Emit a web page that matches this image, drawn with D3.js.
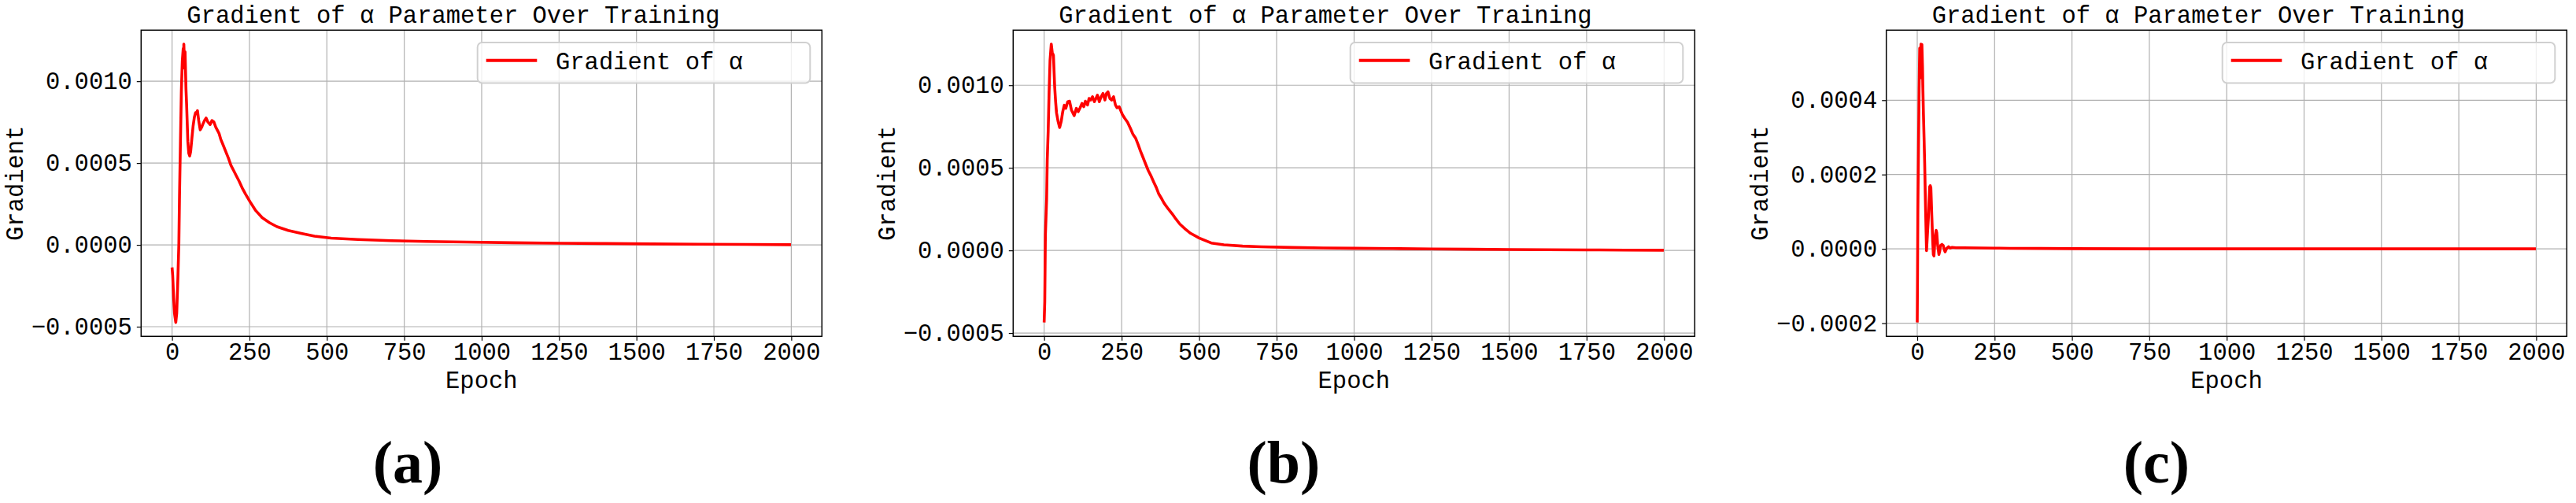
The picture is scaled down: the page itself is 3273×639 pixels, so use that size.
<!DOCTYPE html>
<html>
<head>
<meta charset="utf-8">
<title>Gradient of alpha parameter over training</title>
<script src="https://d3js.org/d3.v7.min.js"></script>
<style>
    body { margin: 0; background: #fff; }
    svg { display: block; }
    text { font-family: 'Liberation Mono', 'Courier New', monospace; }
</style>
</head>
<body>
<div id="chart"></div>
<script>
    // values (epoch, gradient)
    var epochsA = [0, 2, 5, 8, 12, 15, 19, 22, 24, 27, 30, 33, 36, 37, 38, 40, 42, 45, 47, 51, 54, 57, 60, 64, 68, 72, 76, 80, 82, 86, 91, 96,
        100, 105, 110, 116, 123, 129, 135, 141, 148, 152, 157, 165, 174, 182, 190, 200, 208, 216, 226, 237, 252, 270, 291, 315, 339,
        375, 417, 460, 514, 600, 708, 820, 951, 1100, 1250, 1400, 1550, 1700, 1850, 1999];
    var gradA = [-0.000138, -0.000186, -0.00032, -0.00042, -0.000474, -0.00042, -0.00019, 0.00001, 0.000295, 0.00062, 0.000936, 0.00112,
        0.0012, 0.00108, 0.001227, 0.00112, 0.00118, 0.00095, 0.000857, 0.000631, 0.00056, 0.000543, 0.00057, 0.00065, 0.000727, 0.00078,
        0.000808, 0.000812, 0.00082, 0.00076, 0.000703, 0.00072, 0.00074, 0.00076, 0.000775, 0.00075, 0.000735, 0.00076, 0.000751,
        0.00072, 0.000695, 0.00068, 0.000647, 0.00061, 0.000567, 0.00053, 0.000487, 0.00045, 0.00042, 0.000391, 0.00035, 0.000311,
        0.000263, 0.00021, 0.000166, 0.000135, 0.000111, 0.000088, 0.00007, 0.000053, 0.000041, 0.000033, 0.0000255, 0.000021,
        0.000017, 0.000013, 0.00001, 0.000008, 0.000006, 0.000004, 0.000003, 0.000001];

    var epochsB = [0, 2, 4, 6, 8, 10, 13, 16, 19, 23, 26, 30, 34, 37, 40, 45, 50, 55, 60, 65, 70, 76, 82, 88, 97, 104, 110, 116, 122, 128,
        133, 140, 145, 150, 156, 162, 167, 172, 178, 184, 190, 196, 201, 206, 212, 218, 224, 230, 235, 242, 252, 260, 269, 278, 286,
        295, 303, 311, 319, 328, 336, 345, 354, 362, 370, 380, 387, 400, 413, 425, 438, 455, 472, 500, 539, 580, 640, 700, 800, 900,
        1000, 1125, 1250, 1375, 1500, 1625, 1750, 1875, 1999];
    var gradB = [-0.000436, -0.00031, 0.00009, 0.0002, 0.00031, 0.000547, 0.00072, 0.000958, 0.00115, 0.001249, 0.0012, 0.00118, 0.00099,
        0.0009, 0.000832, 0.00078, 0.000744, 0.00078, 0.00084, 0.000879, 0.00086, 0.0009, 0.000903, 0.00085, 0.000816, 0.00086, 0.00084,
        0.000863, 0.00089, 0.00087, 0.000903, 0.00088, 0.00092, 0.00091, 0.00093, 0.0009, 0.000919, 0.00094, 0.0009, 0.00093, 0.00095,
        0.00091, 0.00095, 0.00096, 0.00092, 0.00091, 0.00093, 0.00088, 0.000863, 0.00087, 0.000824, 0.0008, 0.000776, 0.00074, 0.000705,
        0.00068, 0.000642, 0.0006, 0.000563, 0.00052, 0.000483, 0.00045, 0.000412, 0.00038, 0.000341, 0.00031, 0.000286, 0.000252,
        0.000222, 0.00019, 0.000159, 0.00013, 0.000104, 0.000075, 0.000045, 0.000034, 0.000026, 0.000022, 0.000018, 0.000015, 0.000013,
        0.000011, 0.000009, 0.000007, 0.000005, 0.000004, 0.000003, 0.000002, 0.000001];

    var epochsC = [0, 1, 2, 3, 4, 6, 8, 10, 12, 14, 15, 17, 18, 20, 22, 24, 27, 30, 33, 36, 40, 42, 44, 47, 50, 52, 54, 58, 61, 63, 66,
        70, 73, 75, 80, 84, 88, 90, 95, 101, 107, 113, 125, 150, 200, 250, 300, 400, 500, 750, 1000, 1250, 1500, 1750, 1999];
    var gradC = [-0.000198, -0.000065, 0.000104, 0.00019, 0.00027, 0.000428, 0.00054, 0.00046, 0.000551, 0.0005, 0.00055, 0.00049,
        0.00044, 0.000364, 0.0003, 0.000231, 0.000104, -0.000005, 0.00004, 0.000083, 0.000167, 0.00017, 0.000165, 0.00009, 0.00002,
        -0.000015, -0.000019, 0.000034, 0.00005, 0.000044, 0.00001, -0.000015, -0.000005, 0.000009, 0.000012, 0.000009, -0.000004,
        -0.000008, 0.000001, 0.0000057, 0.000002, 0.000004, 0.000003, 0.000003, 0.0000025, 0.000002, 0.0000015, 0.000001, 0.0000005,
        0, 0, 0, 0, 0, 0];

    var xTicks = [0, 250, 500, 750, 1000, 1250, 1500, 1750, 2000];
    var yTicksA = [-0.0005, 0, 0.0005, 0.0010];
    var yTicksB = [-0.0005, 0, 0.0005, 0.0010];
    var yTicksC = [-0.0002, 0, 0.0002, 0.0004];
    var captions = ['(a)', '(b)', '(c)'];

    var titleText = 'Gradient of \u03b1 Parameter Over Training';
    var legendText = 'Gradient of \u03b1';

    var width = 3273, height = 639;
    var plotTop = 38.3, plotBottom = 427.3;
    var fontSize = 30.5;
    var lineColor = '#ff0000';

    var panels = [
        {left: 179.3, right: 1044.3, epochs: epochsA, grads: gradA, yTicks: yTicksA, caption: captions[0], capX: 518},
        {left: 1287.3, right: 2153.3, epochs: epochsB, grads: gradB, yTicks: yTicksB, caption: captions[1], capX: 1631},
        {left: 2396.7, right: 3261.3, epochs: epochsC, grads: gradC, yTicks: yTicksC, caption: captions[2], capX: 2740}
    ];

    var svg = d3.select('#chart').append('svg')
            .attr('width', width)
            .attr('height', height);

    svg.append('rect')
            .attr('width', width)
            .attr('height', height)
            .attr('fill', '#fff');

    function fmt(v) {
        var s = Math.abs(v).toFixed(4);
        return v < 0 ? '\u2212' + s : s;
    }

    function drawPanel(p) {
        var data = p.epochs.map(function (e, i) { return {x: e, y: p.grads[i]}; });

        // matplotlib style 5% margins
        var xExt = d3.extent(data, function (d) { return d.x; });
        var yExt = d3.extent(data, function (d) { return d.y; });
        var xPad = (xExt[1] - xExt[0]) * 0.05;
        var yPad = (yExt[1] - yExt[0]) * 0.05;

        var x = d3.scaleLinear()
                .domain([xExt[0] - xPad, xExt[1] + xPad])
                .range([p.left, p.right]);
        var y = d3.scaleLinear()
                .domain([yExt[0] - yPad, yExt[1] + yPad])
                .range([plotBottom, plotTop]);

        var g = svg.append('g');

        // grid
        g.append('g').selectAll('line').data(xTicks).enter().append('line')
                .attr('x1', function (d) { return x(d); })
                .attr('x2', function (d) { return x(d); })
                .attr('y1', plotTop).attr('y2', plotBottom)
                .style('stroke', '#b0b0b0').style('stroke-width', 1.2);
        g.append('g').selectAll('line').data(p.yTicks).enter().append('line')
                .attr('y1', function (d) { return y(d); })
                .attr('y2', function (d) { return y(d); })
                .attr('x1', p.left).attr('x2', p.right)
                .style('stroke', '#b0b0b0').style('stroke-width', 1.2);

        // axes
        var xAxis = d3.axisBottom(x).tickValues(xTicks).tickSize(5.5).tickPadding(8).tickFormat(d3.format('d'));
        var yAxis = d3.axisLeft(y).tickValues(p.yTicks).tickSize(5.5).tickPadding(6).tickFormat(fmt);

        var gx = g.append('g').attr('transform', 'translate(0,' + plotBottom + ')').call(xAxis);
        var gy = g.append('g').attr('transform', 'translate(' + p.left + ',0)').call(yAxis);
        [gx, gy].forEach(function (a) {
            a.select('.domain').remove();
            a.selectAll('.tick line').style('stroke', '#000').style('stroke-width', 1.2);
            a.selectAll('.tick text')
                    .style('font-family', "'Liberation Mono', monospace")
                    .style('font-size', fontSize + 'px')
                    .style('fill', '#000');
        });
        gx.selectAll('.tick text').attr('dy', null).attr('y', 29.4);
        gy.selectAll('.tick text').attr('dy', null).attr('y', 9.6).attr('x', -11.5);

        // curve
        var line = d3.line()
                .x(function (d) { return x(d.x); })
                .y(function (d) { return y(d.y); });

        g.append('path')
                .datum(data)
                .attr('d', line)
                .style('fill', 'none')
                .style('stroke', lineColor)
                .style('stroke-width', 3.6)
                .style('stroke-linejoin', 'round');

        // frame
        g.append('rect')
                .attr('x', p.left).attr('y', plotTop)
                .attr('width', p.right - p.left).attr('height', plotBottom - plotTop)
                .style('fill', 'none').style('stroke', '#000').style('stroke-width', 1.5);

        // legend
        var lgRight = p.right - 15, lgW = 422.6;
        var lg = g.append('g').attr('transform', 'translate(' + (lgRight - lgW) + ',54)');
        lg.append('rect')
                .attr('width', lgW).attr('height', 51.5)
                .attr('rx', 6).attr('ry', 6)
                .style('fill', '#fff').style('fill-opacity', 0.8)
                .style('stroke', '#d0d0d0').style('stroke-width', 2);
        lg.append('line')
                .attr('x1', 11).attr('x2', 75.6).attr('y1', 22.7).attr('y2', 22.7)
                .style('stroke', lineColor).style('stroke-width', 4);
        lg.append('text')
                .attr('x', 99.3).attr('y', 33.7)
                .style('font-size', fontSize + 'px')
                .text(legendText);

        // labels
        g.append('text')
                .attr('x', p.left + 58).attr('y', 28.7)
                .style('font-size', fontSize + 'px')
                .text(titleText);
        g.append('text')
                .attr('x', (p.left + p.right) / 2).attr('y', 492.5)
                .attr('text-anchor', 'middle')
                .style('font-size', fontSize + 'px')
                .text('Epoch');
        g.append('text')
                .attr('transform', 'translate(' + (p.left - 150.5) + ',' + ((plotTop + plotBottom) / 2) + ') rotate(-90)')
                .attr('text-anchor', 'middle')
                .style('font-size', fontSize + 'px')
                .text('Gradient');

        g.append('text')
                .attr('x', p.capX).attr('y', 613)
                .attr('text-anchor', 'middle')
                .style('font-family', "'Liberation Serif', 'Times New Roman', serif")
                .style('font-weight', 'bold')
                .style('font-size', '76px')
                .text(p.caption);
    }

    panels.forEach(drawPanel);
</script>
</body>
</html>
